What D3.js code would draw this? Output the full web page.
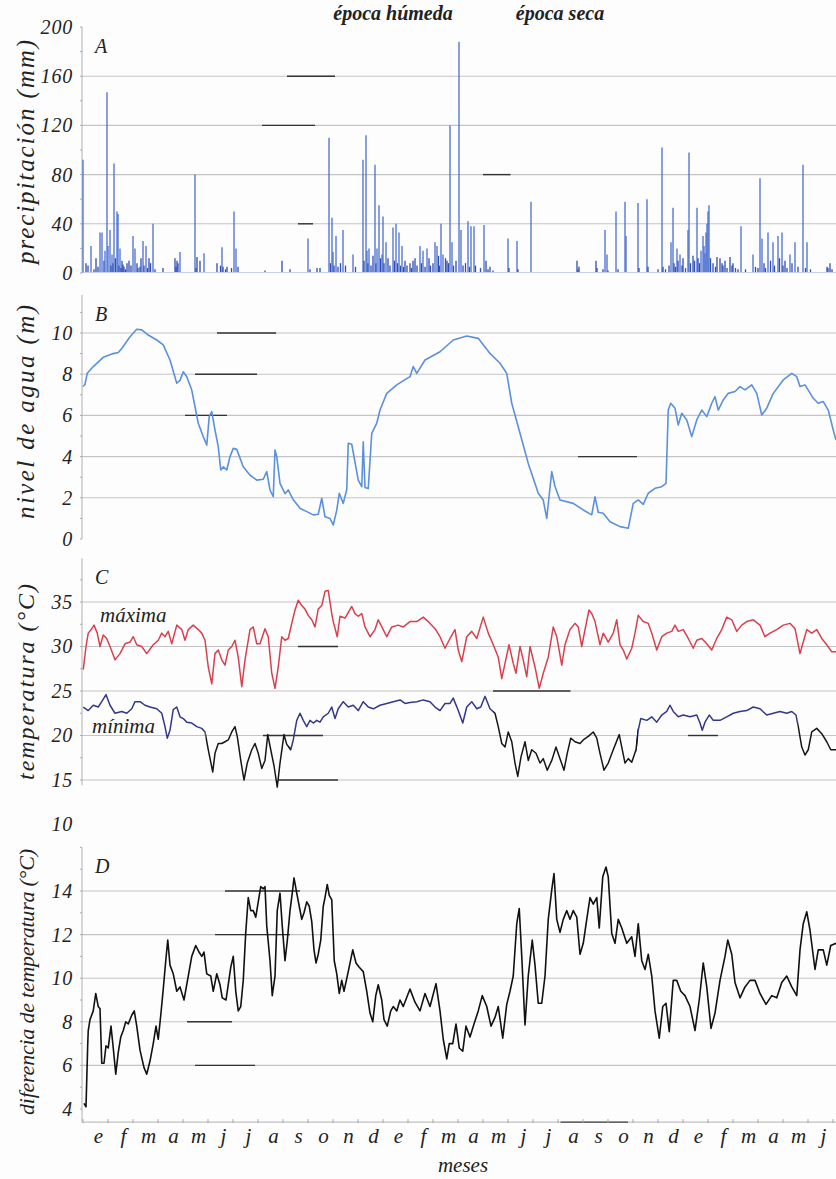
<!DOCTYPE html>
<html>
<head>
<meta charset="utf-8">
<script src="https://cdn.jsdelivr.net/npm/d3@7"></script>
<style>
  body { margin: 0; background: #fdfdfd; }
  text { font-family: "Liberation Serif", "DejaVu Serif", serif; font-style: italic; fill: #222; }
</style>
</head>
<body>
<svg id="chart" width="836" height="1179"></svg>
<script>
// time is in months from the first "e" (enero); 30 months shown

const months = ["e","f","m","a","m","j","j","a","s","o","n","d",
                "e","f","m","a","m","j","j","a","s","o","n","d",
                "e","f","m","a","m","j"];

// A: daily rain [month, mm]
const rain = [
  [0.00,92],[0.12,8],[0.20,6],[0.32,22],[0.44,3],[0.52,12],[0.60,5],[0.68,33],[0.76,33],[0.84,10],[0.88,18],
  [0.96,147],[1.00,22],[1.08,35],[1.12,6],[1.16,15],[1.20,8],[1.24,89],[1.30,12],[1.36,50],[1.40,48],[1.44,6],
  [1.48,20],[1.52,4],[1.56,10],[1.60,7],[1.64,5],[1.70,3],[1.76,8],[1.84,10],[1.92,6],[2.00,30],[2.08,20],
  [2.16,8],[2.20,4],[2.28,5],[2.32,12],[2.40,26],[2.44,6],[2.52,22],[2.58,4],[2.64,12],[2.70,8],[2.80,40],
  [2.88,3],[3.20,4],[3.68,12],[3.72,5],[3.76,10],[3.80,8],[3.88,17],[4.48,80],[4.52,4],[4.56,13],[4.68,10],
  [4.84,16],[5.36,8],[5.50,6],[5.56,21],[5.60,5],[5.70,3],[5.76,5],[5.94,4],[6.04,50],[6.12,20],[6.20,5],
  [7.28,2],[7.96,10],[8.28,3],[9.00,28],[9.08,3],[9.36,4],[9.48,4],[9.84,110],[9.90,8],[9.96,45],[10.00,17],
  [10.04,6],[10.12,30],[10.20,5],[10.30,8],[10.40,35],[10.50,6],[10.80,15],[10.90,5],[11.20,92],[11.24,10],
  [11.32,112],[11.36,18],[11.40,8],[11.44,20],[11.52,6],[11.60,14],[11.68,88],[11.72,8],[11.76,20],[11.84,55],
  [11.90,12],[11.96,15],[12.00,46],[12.04,8],[12.12,25],[12.20,12],[12.28,6],[12.40,37],[12.46,10],[12.52,40],
  [12.58,8],[12.64,33],[12.70,6],[12.76,22],[12.82,5],[12.88,10],[12.96,6],[13.08,8],[13.14,4],[13.20,10],
  [13.28,12],[13.36,6],[13.48,22],[13.54,8],[13.60,18],[13.68,5],[13.76,20],[13.84,12],[13.90,6],[14.00,8],
  [14.08,25],[14.16,22],[14.22,14],[14.26,6],[14.32,40],[14.40,15],[14.50,12],[14.56,10],[14.62,8],[14.68,120],
  [14.76,25],[14.82,6],[14.92,10],[15.04,188],[15.12,35],[15.20,6],[15.30,8],[15.40,42],[15.46,5],[15.52,38],
  [15.64,38],[15.70,6],[15.90,4],[16.04,39],[16.12,10],[16.20,3],[16.28,5],[16.40,2],[17.00,28],[17.04,4],
  [17.36,26],[17.40,3],[17.92,58],[19.76,10],[19.80,3],[19.84,5],[20.52,10],[20.56,4],[20.80,3],[20.88,35],
  [20.96,15],[21.00,2],[21.32,50],[21.40,3],[21.68,58],[21.72,30],[22.20,57],[22.24,4],[22.56,60],[22.60,5],
  [23.00,3],[23.16,102],[23.20,5],[23.30,3],[23.44,6],[23.52,25],[23.60,53],[23.64,8],[23.70,5],[23.76,20],
  [23.80,10],[23.88,15],[23.96,6],[24.00,12],[24.10,4],[24.20,35],[24.24,98],[24.30,8],[24.40,14],[24.46,10],
  [24.56,53],[24.60,12],[24.66,8],[24.72,18],[24.80,30],[24.84,22],[24.88,16],[24.92,33],[24.96,40],[25.00,50],
  [25.04,55],[25.10,12],[25.20,8],[25.30,5],[25.36,13],[25.48,12],[25.56,8],[25.60,6],[25.68,10],[25.76,4],
  [25.88,13],[25.96,6],[26.00,8],[26.10,4],[26.20,3],[26.32,38],[26.50,3],[26.80,15],[26.90,5],[27.00,4],
  [27.08,77],[27.16,28],[27.24,8],[27.30,4],[27.40,33],[27.50,10],[27.60,25],[27.66,6],[27.80,30],[27.86,12],
  [27.96,33],[28.00,6],[28.08,10],[28.16,4],[28.28,15],[28.36,8],[28.48,25],[28.60,5],[28.80,88],[28.90,4],
  [28.96,25],[29.10,3],[29.76,5],[29.80,4],[29.88,8],[29.96,3]
];

// B: water level [month, m]
const waterLevel = [
  [0.00,7.4],[0.08,7.5],[0.17,8.05],[0.41,8.37],[0.81,8.82],[1.21,9.0],[1.41,9.05],[1.55,9.25],[1.88,9.82],
  [2.15,10.18],[2.35,10.15],[2.61,9.9],[2.95,9.66],[3.21,9.42],[3.48,8.69],[3.75,7.56],[3.88,7.7],[4.01,8.12],
  [4.15,7.88],[4.35,7.23],[4.48,6.42],[4.61,5.62],[4.81,4.97],[4.95,4.56],[5.05,5.94],[5.15,6.18],[5.28,5.29],
  [5.41,4.48],[5.51,3.35],[5.61,3.5],[5.75,3.35],[5.88,4.0],[6.01,4.4],[6.15,4.35],[6.41,3.51],[6.68,3.1],
  [6.95,2.86],[7.21,2.9],[7.35,3.27],[7.48,2.38],[7.61,2.05],[7.68,4.32],[7.75,4.0],[7.88,2.7],[8.08,2.2],
  [8.21,2.38],[8.41,1.9],[8.68,1.49],[8.95,1.33],[9.21,1.17],[9.41,1.2],[9.55,1.98],[9.68,1.08],[9.88,1.0],
  [10.01,0.68],[10.15,1.4],[10.25,2.22],[10.41,1.73],[10.55,2.4],[10.61,4.65],[10.75,4.6],[11.01,2.86],
  [11.15,2.54],[11.21,4.72],[11.28,2.5],[11.41,2.45],[11.55,5.13],[11.75,5.62],[11.88,6.26],[12.15,7.07],
  [12.55,7.48],[12.90,7.75],[13.08,7.88],[13.21,8.37],[13.35,8.04],[13.68,8.69],[14.28,9.09],[14.81,9.66],
  [15.35,9.85],[15.81,9.74],[16.28,9.01],[16.68,8.53],[16.95,8.04],[17.15,6.59],[17.48,5.13],[17.81,3.67],
  [18.21,2.22],[18.41,1.89],[18.55,1.0],[18.61,1.7],[18.75,3.27],[18.88,2.55],[19.08,1.89],[19.61,1.73],
  [20.01,1.41],[20.35,1.17],[20.48,2.05],[20.61,1.3],[20.81,1.25],[21.08,0.84],[21.48,0.6],[21.81,0.52],
  [22.01,1.73],[22.21,1.9],[22.41,1.68],[22.61,2.22],[22.88,2.46],[23.15,2.54],[23.32,2.7],[23.41,6.26],
  [23.51,6.59],[23.68,6.35],[23.81,5.53],[23.95,6.1],[24.15,5.78],[24.35,4.97],[24.55,5.78],[24.75,6.26],
  [24.95,5.94],[25.15,6.59],[25.28,6.91],[25.41,6.26],[25.61,6.75],[25.81,7.07],[26.08,7.16],[26.28,7.4],
  [26.48,7.24],[26.75,7.48],[26.95,7.07],[27.15,6.02],[27.35,6.35],[27.61,7.07],[28.01,7.72],[28.35,8.04],
  [28.55,7.88],[28.68,7.4],[28.88,7.48],[29.21,6.83],[29.41,6.59],[29.61,6.67],[29.81,6.26],[30.01,5.29],
  [30.12,4.8]
];

// C: daily maximum temperature [month, °C]
const tMax = [
  [0.01,27.4],[0.12,30.0],[0.21,31.5],[0.35,32.0],[0.44,32.4],[0.57,31.5],[0.68,30.0],[0.81,31.3],[0.95,30.9],
  [1.08,30.0],[1.28,28.5],[1.48,29.2],[1.68,30.3],[1.88,30.5],[2.01,31.1],[2.15,30.2],[2.35,30.0],[2.55,29.2],
  [2.81,30.2],[3.01,30.7],[3.15,31.5],[3.28,31.1],[3.41,31.7],[3.55,30.3],[3.75,32.4],[3.95,31.9],[4.08,30.7],
  [4.21,31.9],[4.41,32.4],[4.61,31.9],[4.75,31.5],[4.88,30.7],[5.01,27.7],[5.15,25.8],[5.28,29.2],[5.41,29.6],
  [5.55,28.5],[5.68,27.9],[5.81,29.6],[5.95,30.0],[6.08,30.7],[6.21,28.8],[6.35,25.5],[6.48,28.5],[6.68,31.9],
  [6.81,32.2],[6.95,30.3],[7.08,30.3],[7.28,32.0],[7.41,31.1],[7.55,27.0],[7.68,25.3],[7.81,27.7],[7.95,31.1],
  [8.08,30.7],[8.21,30.9],[8.35,32.6],[8.48,34.1],[8.61,35.2],[8.75,34.6],[8.88,34.2],[9.01,33.5],[9.15,33.0],
  [9.28,32.2],[9.41,34.2],[9.55,34.6],[9.68,36.2],[9.81,36.3],[9.95,33.7],[10.01,32.8],[10.17,31.1],[10.28,33.4],
  [10.48,33.2],[10.75,34.5],[10.88,33.7],[11.01,33.4],[11.15,33.7],[11.28,32.2],[11.48,31.1],[11.68,31.9],
  [11.81,33.0],[12.01,31.9],[12.15,31.1],[12.35,32.2],[12.61,32.4],[12.81,32.2],[13.08,32.8],[13.35,32.8],
  [13.61,33.3],[13.81,32.8],[14.08,32.0],[14.28,31.1],[14.48,29.8],[14.68,30.9],[14.88,31.9],[15.01,29.6],
  [15.15,28.3],[15.35,31.1],[15.55,31.7],[15.75,30.9],[16.01,33.3],[16.21,31.5],[16.41,30.2],[16.61,28.8],
  [16.75,26.4],[16.88,28.1],[17.04,30.2],[17.21,28.1],[17.32,27.0],[17.48,30.0],[17.61,28.5],[17.75,26.6],
  [17.88,30.0],[18.08,27.7],[18.25,25.3],[18.41,27.0],[18.61,28.8],[18.81,32.2],[18.95,31.1],[19.15,27.9],
  [19.28,30.2],[19.48,31.9],[19.68,32.6],[19.81,32.2],[19.95,30.0],[20.08,31.9],[20.24,34.1],[20.35,33.7],
  [20.48,32.8],[20.68,30.2],[20.81,31.5],[21.01,30.5],[21.21,31.5],[21.35,33.0],[21.48,30.2],[21.61,29.6],
  [21.75,28.6],[21.95,29.8],[22.08,31.5],[22.21,33.5],[22.41,32.8],[22.61,32.6],[22.75,31.5],[22.95,29.6],
  [23.15,31.1],[23.35,31.5],[23.55,31.7],[23.68,32.4],[23.81,31.7],[24.01,31.9],[24.21,30.9],[24.41,29.8],
  [24.55,30.7],[24.75,30.9],[24.95,30.3],[25.15,29.6],[25.35,30.9],[25.55,31.9],[25.75,33.3],[25.95,33.0],
  [26.15,31.7],[26.35,32.4],[26.55,32.8],[26.81,33.0],[27.08,32.4],[27.28,31.1],[27.48,31.5],[27.75,31.9],
  [28.01,32.4],[28.28,32.6],[28.48,32.0],[28.68,29.2],[28.81,30.5],[28.95,31.9],[29.15,31.5],[29.35,31.9],
  [29.55,30.9],[29.75,30.2],[29.95,29.4],[30.12,29.4]
];

// C: daily minimum temperature [month, °C]
const tMin = [
  [0.01,23.2],[0.21,22.8],[0.41,23.4],[0.61,23.2],[0.75,23.8],[0.92,24.6],[1.08,23.4],[1.28,22.5],[1.55,22.7],
  [1.75,22.5],[1.95,23.0],[2.08,23.8],[2.28,23.8],[2.48,23.4],[2.68,23.2],[2.95,23.0],[3.15,22.5],[3.28,21.0],
  [3.37,19.7],[3.48,20.6],[3.61,22.9],[3.75,23.2],[3.88,22.1],[4.01,21.9],[4.15,21.5],[4.35,21.4],[4.55,21.0],
  [4.75,20.8],[4.88,20.4],[5.01,18.4],[5.19,15.9],[5.28,18.0],[5.41,19.1],[5.55,19.1],[5.68,19.3],[5.81,19.5],
  [5.95,20.4],[6.08,21.0],[6.17,19.9],[6.31,17.2],[6.44,15.0],[6.57,16.9],[6.75,18.4],[6.88,19.1],[7.01,18.0],
  [7.15,16.3],[7.28,17.2],[7.39,20.1],[7.51,18.4],[7.64,16.6],[7.77,14.2],[7.88,16.9],[8.04,20.1],[8.15,19.0],
  [8.31,18.4],[8.41,19.5],[8.55,21.7],[8.68,22.5],[8.81,21.7],[8.95,21.0],[9.08,21.7],[9.21,21.4],[9.35,21.7],
  [9.48,21.5],[9.61,22.1],[9.81,22.5],[9.95,23.2],[10.08,21.9],[10.21,23.0],[10.41,23.8],[10.61,23.2],
  [10.81,23.4],[11.01,22.8],[11.21,23.8],[11.41,23.2],[11.61,23.0],[11.88,23.4],[12.15,23.6],[12.41,23.8],
  [12.68,24.0],[12.88,23.6],[13.08,23.7],[13.35,23.8],[13.61,24.0],[13.88,23.8],[14.08,23.2],[14.28,22.8],
  [14.48,23.6],[14.68,23.6],[14.81,24.2],[15.01,22.8],[15.19,21.4],[15.35,23.2],[15.55,23.8],[15.75,23.0],
  [15.91,23.2],[16.08,24.4],[16.28,23.0],[16.48,22.5],[16.61,21.0],[16.75,19.1],[16.88,18.7],[17.01,20.4],
  [17.15,19.3],[17.28,16.9],[17.39,15.4],[17.52,17.6],[17.68,19.3],[17.81,17.2],[17.95,18.4],[18.12,18.0],
  [18.28,16.9],[18.41,17.4],[18.57,16.1],[18.75,17.2],[18.92,18.7],[19.08,17.4],[19.24,16.1],[19.37,18.0],
  [19.51,19.7],[19.68,19.3],[19.88,19.1],[20.01,19.5],[20.21,19.9],[20.41,20.4],[20.55,19.7],[20.68,18.0],
  [20.84,16.1],[21.01,16.9],[21.21,18.4],[21.45,20.1],[21.55,18.7],[21.68,16.9],[21.81,17.4],[21.95,17.0],
  [22.12,18.4],[22.21,20.6],[22.31,21.9],[22.55,21.7],[22.75,22.1],[22.95,21.5],[23.15,22.3],[23.35,22.7],
  [23.48,23.4],[23.61,22.7],[23.81,22.1],[24.01,22.3],[24.28,22.1],[24.55,22.3],[24.68,21.4],[24.77,20.6],
  [24.88,21.5],[25.05,22.3],[25.21,21.7],[25.48,21.7],[25.75,22.1],[26.01,22.5],[26.28,22.7],[26.55,22.8],
  [26.81,23.2],[27.08,23.0],[27.35,22.3],[27.61,22.5],[27.88,22.7],[28.15,22.5],[28.35,22.7],[28.52,22.3],
  [28.61,21.0],[28.75,18.7],[28.88,17.8],[29.01,18.4],[29.15,20.4],[29.35,20.8],[29.55,20.2],[29.75,19.3],
  [29.91,18.4],[30.12,18.4]
];

// stretches where the minimum curve is printed in black (dry season)
const dryPeriods = [[4.9, 8.3], [16.4, 22.2], [28.6, 30.12]];

// D: daily temperature range [month, °C]
const tDiff = [
  [0.04,4.26],[0.12,4.1],[0.19,7.0],[0.21,7.6],[0.28,8.1],[0.41,8.5],[0.51,9.3],[0.61,8.7],[0.68,8.6],
  [0.75,6.1],[0.84,6.1],[0.92,6.9],[1.01,6.8],[1.12,7.8],[1.21,6.8],[1.31,5.6],[1.41,6.6],[1.51,7.3],[1.61,7.6],
  [1.71,8.0],[1.81,7.9],[1.95,8.3],[2.05,8.5],[2.15,7.8],[2.28,6.7],[2.44,5.9],[2.55,5.6],[2.68,6.2],[2.81,7.0],
  [2.92,7.8],[3.01,7.2],[3.11,8.3],[3.21,9.5],[3.31,10.8],[3.39,11.75],[3.48,10.6],[3.61,10.2],[3.75,9.4],
  [3.88,9.6],[4.04,9.0],[4.21,10.1],[4.35,11.0],[4.51,11.5],[4.64,11.2],[4.75,11.0],[4.84,11.2],[4.95,10.2],
  [5.11,10.1],[5.21,9.4],[5.35,10.2],[5.48,9.7],[5.57,9.1],[5.72,9.0],[5.81,9.7],[5.91,10.5],[6.01,11.0],
  [6.11,9.4],[6.21,8.5],[6.31,8.7],[6.41,9.9],[6.51,12.1],[6.61,13.7],[6.71,13.1],[6.81,13.1],[6.91,12.8],
  [7.01,13.5],[7.11,14.2],[7.21,14.1],[7.28,14.2],[7.35,12.4],[7.48,10.8],[7.57,9.2],[7.68,10.1],[7.77,13.1],
  [7.88,13.9],[7.97,12.4],[8.08,10.8],[8.17,11.7],[8.28,13.1],[8.37,13.9],[8.44,14.6],[8.55,13.9],[8.65,13.3],
  [8.75,12.7],[8.84,13.0],[8.95,13.5],[9.05,13.3],[9.15,12.6],[9.24,11.3],[9.32,10.7],[9.41,11.1],[9.51,11.75],
  [9.61,13.3],[9.68,13.7],[9.77,14.3],[9.85,13.8],[9.95,13.6],[10.05,10.8],[10.15,10.2],[10.25,9.3],[10.35,9.9],
  [10.44,9.4],[10.61,10.3],[10.79,11.3],[10.92,10.7],[11.05,10.5],[11.21,10.3],[11.35,9.4],[11.48,8.4],
  [11.59,8.0],[11.71,9.2],[11.81,9.7],[11.95,9.0],[12.04,8.1],[12.17,7.8],[12.31,8.5],[12.41,8.7],[12.55,8.5],
  [12.68,9.0],[12.81,8.7],[13.01,9.3],[13.08,9.5],[13.28,8.9],[13.48,8.5],[13.68,9.3],[13.88,8.7],[14.12,9.75],
  [14.28,8.5],[14.41,7.2],[14.55,6.3],[14.65,7.0],[14.79,7.0],[14.92,7.9],[15.05,6.8],[15.19,6.65],[15.32,7.8],
  [15.48,7.3],[15.64,7.9],[15.81,8.5],[15.97,9.2],[16.15,8.7],[16.32,7.8],[16.48,8.2],[16.61,8.7],[16.79,7.25],
  [16.95,8.8],[17.08,9.4],[17.21,10.1],[17.35,12.5],[17.45,13.2],[17.55,11.0],[17.68,7.85],[17.81,10.1],
  [17.97,11.75],[18.08,10.6],[18.21,8.85],[18.35,8.85],[18.48,10.1],[18.61,12.7],[18.75,14.05],[18.84,14.8],
  [18.95,12.7],[19.08,12.1],[19.21,12.7],[19.35,13.1],[19.48,12.7],[19.61,13.1],[19.75,12.8],[19.88,11.1],
  [20.01,11.6],[20.15,12.7],[20.28,13.7],[20.41,13.4],[20.55,13.7],[20.65,12.3],[20.79,14.65],[20.92,15.1],
  [21.01,14.65],[21.15,12.05],[21.28,11.6],[21.41,12.7],[21.55,12.3],[21.75,11.6],[21.95,11.9],[22.08,11.0],
  [22.21,12.5],[22.35,10.8],[22.48,10.4],[22.61,11.1],[22.75,10.1],[22.88,8.5],[23.05,7.25],[23.19,8.7],
  [23.32,8.85],[23.45,7.55],[23.61,9.9],[23.75,9.9],[23.91,9.4],[24.08,9.2],[24.28,8.7],[24.48,7.6],[24.65,9.0],
  [24.81,10.7],[24.95,9.6],[25.12,7.7],[25.28,8.4],[25.48,9.9],[25.68,11.0],[25.79,11.75],[25.95,11.1],
  [26.08,9.8],[26.28,9.1],[26.48,9.6],[26.68,9.9],[26.88,9.9],[27.08,9.3],[27.32,8.8],[27.55,9.2],[27.75,9.1],
  [27.95,9.8],[28.15,10.1],[28.35,9.6],[28.55,9.2],[28.68,11.3],[28.81,12.5],[28.95,13.05],[29.08,12.2],
  [29.28,10.4],[29.41,11.3],[29.61,11.3],[29.75,10.6],[29.91,11.5],[30.12,11.6]
];

// dark bits of gridline left by the original print [panel, value, from month, to month]
const darkGridBits = [
  ["A",160,8.16,10.08],["A",120,7.16,9.28],["A",80,16.0,17.1],["A",40,8.6,9.2],
  ["B",10,5.36,7.72],["B",8,4.48,6.96],["B",6,4.08,5.76],["B",4,19.8,22.16],
  ["C",30,8.6,10.2],["C",20,7.2,9.6],["C",15,7.8,10.2],["C",25,16.4,19.5],["C",20,24.2,25.4],
  ["D",14,5.68,8.68],["D",12,5.28,8.28],["D",8,4.16,5.96],["D",6,4.48,6.88]
];

const svg = d3.select("#chart");
const tEnd = 30.12;
const x = d3.scaleLinear().domain([0, tEnd]).range([83, 836]);

const panels = {
  A: { y: d3.scaleLinear().domain([0, 200]).range([273, 27]), ticks: [0,40,80,120,160,200],
       grid: [40,80,120,160], minor: d3.range(0, 201, 20), axisTop: 200, axisBottom: 0,
       title: "precipitación (mm)", titleY: 152, titleLen: 224, titleSize: 25 },
  B: { y: d3.scaleLinear().domain([0, 10]).range([539, 333]), ticks: [0,2,4,6,8,10],
       grid: [2,4,6,8,10], minor: d3.range(0, 12, 1), axisTop: 11.85, axisBottom: 0,
       title: "nivel de agua (m)", titleY: 412, titleLen: 214, titleSize: 25 },
  C: { y: d3.scaleLinear().domain([15, 35]).range([780, 602]), ticks: [10,15,20,25,30,35],
       grid: [15,20,25,30,35], minor: d3.range(15, 40, 2.5), axisTop: 39.9, axisBottom: 14.4,
       title: "temperatura (°C)", titleY: 682, titleLen: 196, titleSize: 24 },
  D: { y: d3.scaleLinear().domain([4, 14]).range([1109, 891]), ticks: [4,6,8,10,12,14],
       grid: [6,8,10,12,14], minor: d3.range(4, 16.1, 1), axisTop: 16.0, axisBottom: 3.4,
       title: "diferencia de temperatura (°C)", titleY: 982, titleLen: 266, titleSize: 22 }
};

// grid, axis and labels for every panel
Object.entries(panels).forEach(([key, p]) => {
  const g = svg.append("g");
  g.selectAll("line.grid").data(p.grid).join("line")
    .attr("x1", x(0) - 1).attr("x2", 836)
    .attr("y1", d => p.y(d)).attr("y2", d => p.y(d))
    .attr("stroke", "#c4c4c4").attr("stroke-width", 1.1);

  g.append("line")
    .attr("x1", x(0) - 1).attr("x2", x(0) - 1)
    .attr("y1", p.y(p.axisTop)).attr("y2", p.y(p.axisBottom))
    .attr("stroke", "#b0b0b0").attr("stroke-width", 1);
  g.selectAll("line.minor").data(p.minor).join("line")
    .attr("x1", x(0) - 3).attr("x2", x(0) - 1)
    .attr("y1", d => p.y(d)).attr("y2", d => p.y(d))
    .attr("stroke", "#aaa");

  const axis = d3.axisLeft(p.y).tickValues(p.ticks).tickSize(0).tickPadding(9);
  const ag = g.append("g").attr("transform", `translate(${x(0) - 1},0)`).call(axis);
  ag.select(".domain").remove();
  ag.selectAll("text")
    .style("font-family", '"Liberation Serif", serif')
    .style("font-style", "italic")
    .style("font-size", "20px")
    .style("letter-spacing", "0.8px")
    .attr("fill", "#2a2a2a");

  g.append("text")
    .attr("transform", `translate(34,${p.titleY}) rotate(-90)`)
    .attr("text-anchor", "middle")
    .attr("textLength", p.titleLen)
    .attr("lengthAdjust", "spacing")
    .style("font-size", p.titleSize + "px")
    .text(p.title);

  g.append("text")
    .attr("x", x(0) + 12).attr("y", p.y(p.axisTop) + 26)
    .style("font-size", "20px")
    .text(key);
});

// print artefacts on gridlines
svg.append("g").selectAll("line").data(darkGridBits).join("line")
  .attr("x1", d => x(d[2])).attr("x2", d => x(d[3]))
  .attr("y1", d => panels[d[0]].y(d[1])).attr("y2", d => panels[d[0]].y(d[1]))
  .attr("stroke", "#333").attr("stroke-width", 1.4);

// A: rain bars
const yA = panels.A.y;
svg.append("g").selectAll("line").data(rain).join("line")
  .attr("x1", d => x(d[0])).attr("x2", d => x(d[0]))
  .attr("y1", yA(0)).attr("y2", d => yA(d[1]))
  .attr("stroke", d => d[1] < 15 ? "#2f4db3" : "#4a6fd2")
  .attr("stroke-width", 1.3);
svg.append("line")
  .attr("x1", x(0)).attr("x2", 836).attr("y1", yA(0) - 0.5).attr("y2", yA(0) - 0.5)
  .attr("stroke", "#c8d0ea").attr("stroke-width", 1);

// B: water level
const lineB = d3.line().x(d => x(d[0])).y(d => panels.B.y(d[1]));
svg.append("path").datum(waterLevel)
  .attr("d", lineB).attr("fill", "none")
  .attr("stroke", "#5b90dc").attr("stroke-width", 1.6).attr("stroke-linejoin", "round");

// C: max and min temperature
const yC = panels.C.y;
const lineC = d3.line().x(d => x(d[0])).y(d => yC(d[1]));
svg.append("path").datum(tMax)
  .attr("d", lineC).attr("fill", "none")
  .attr("stroke", "#d8404f").attr("stroke-width", 1.5).attr("stroke-linejoin", "round");

const defs = svg.append("defs");
const dryClip = defs.append("clipPath").attr("id", "dry");
dryClip.selectAll("rect").data(dryPeriods).join("rect")
  .attr("x", d => x(d[0])).attr("width", d => x(d[1]) - x(d[0]))
  .attr("y", 550).attr("height", 260);
const wetClip = defs.append("clipPath").attr("id", "wet");
const wetPeriods = [[0, dryPeriods[0][0]]];
for (let i = 0; i < dryPeriods.length; i++) {
  const next = i + 1 < dryPeriods.length ? dryPeriods[i + 1][0] : tEnd;
  wetPeriods.push([dryPeriods[i][1], next]);
}
wetClip.selectAll("rect").data(wetPeriods.filter(d => d[1] > d[0])).join("rect")
  .attr("x", d => x(d[0]) - 2).attr("width", d => x(d[1]) - x(d[0]) + 2)
  .attr("y", 550).attr("height", 260);

svg.append("path").datum(tMin)
  .attr("d", lineC).attr("fill", "none").attr("clip-path", "url(#wet)")
  .attr("stroke", "#33388a").attr("stroke-width", 1.5).attr("stroke-linejoin", "round");
svg.append("path").datum(tMin)
  .attr("d", lineC).attr("fill", "none").attr("clip-path", "url(#dry)")
  .attr("stroke", "#161616").attr("stroke-width", 1.5).attr("stroke-linejoin", "round");

svg.append("text").attr("x", 100).attr("y", 622).style("font-size", "21px").text("máxima");
svg.append("text").attr("x", 92).attr("y", 733).style("font-size", "21px").text("mínima");

// D: temperature range
const yD = panels.D.y;
svg.append("path").datum(tDiff)
  .attr("d", d3.line().x(d => x(d[0])).y(d => yD(d[1])))
  .attr("fill", "none").attr("stroke", "#111").attr("stroke-width", 1.6).attr("stroke-linejoin", "round");

// month axis under D
const yBottom = yD(panels.D.axisBottom);
svg.append("line").attr("x1", x(0) - 1).attr("x2", 836).attr("y1", yBottom).attr("y2", yBottom)
  .attr("stroke", "#c0c0c0").attr("stroke-width", 1.2);
svg.append("line").attr("x1", x(19.1)).attr("x2", x(21.8)).attr("y1", yBottom).attr("y2", yBottom)
  .attr("stroke", "#444").attr("stroke-width", 1.4);
svg.append("g").selectAll("line").data(d3.range(0, months.length + 1)).join("line")
  .attr("x1", d => x(d)).attr("x2", d => x(d))
  .attr("y1", yBottom - 3).attr("y2", yBottom + 1)
  .attr("stroke", "#a8a8a8");
svg.append("g").selectAll("text").data(months).join("text")
  .attr("x", (d, i) => x(i + 0.5) + 3).attr("y", 1143)
  .attr("text-anchor", "middle")
  .style("font-size", "21px")
  .attr("fill", "#333")
  .text(d => d);
svg.append("text").attr("x", 463).attr("y", 1172).attr("text-anchor", "middle")
  .style("font-size", "21px").attr("fill", "#333").text("meses");

// season headings
svg.append("text").attr("x", 393).attr("y", 20).attr("text-anchor", "middle")
  .style("font-size", "20px").style("font-weight", "bold").text("época húmeda");
svg.append("text").attr("x", 560).attr("y", 20).attr("text-anchor", "middle")
  .style("font-size", "20px").style("font-weight", "bold").text("época seca");
</script>
</body>
</html>
